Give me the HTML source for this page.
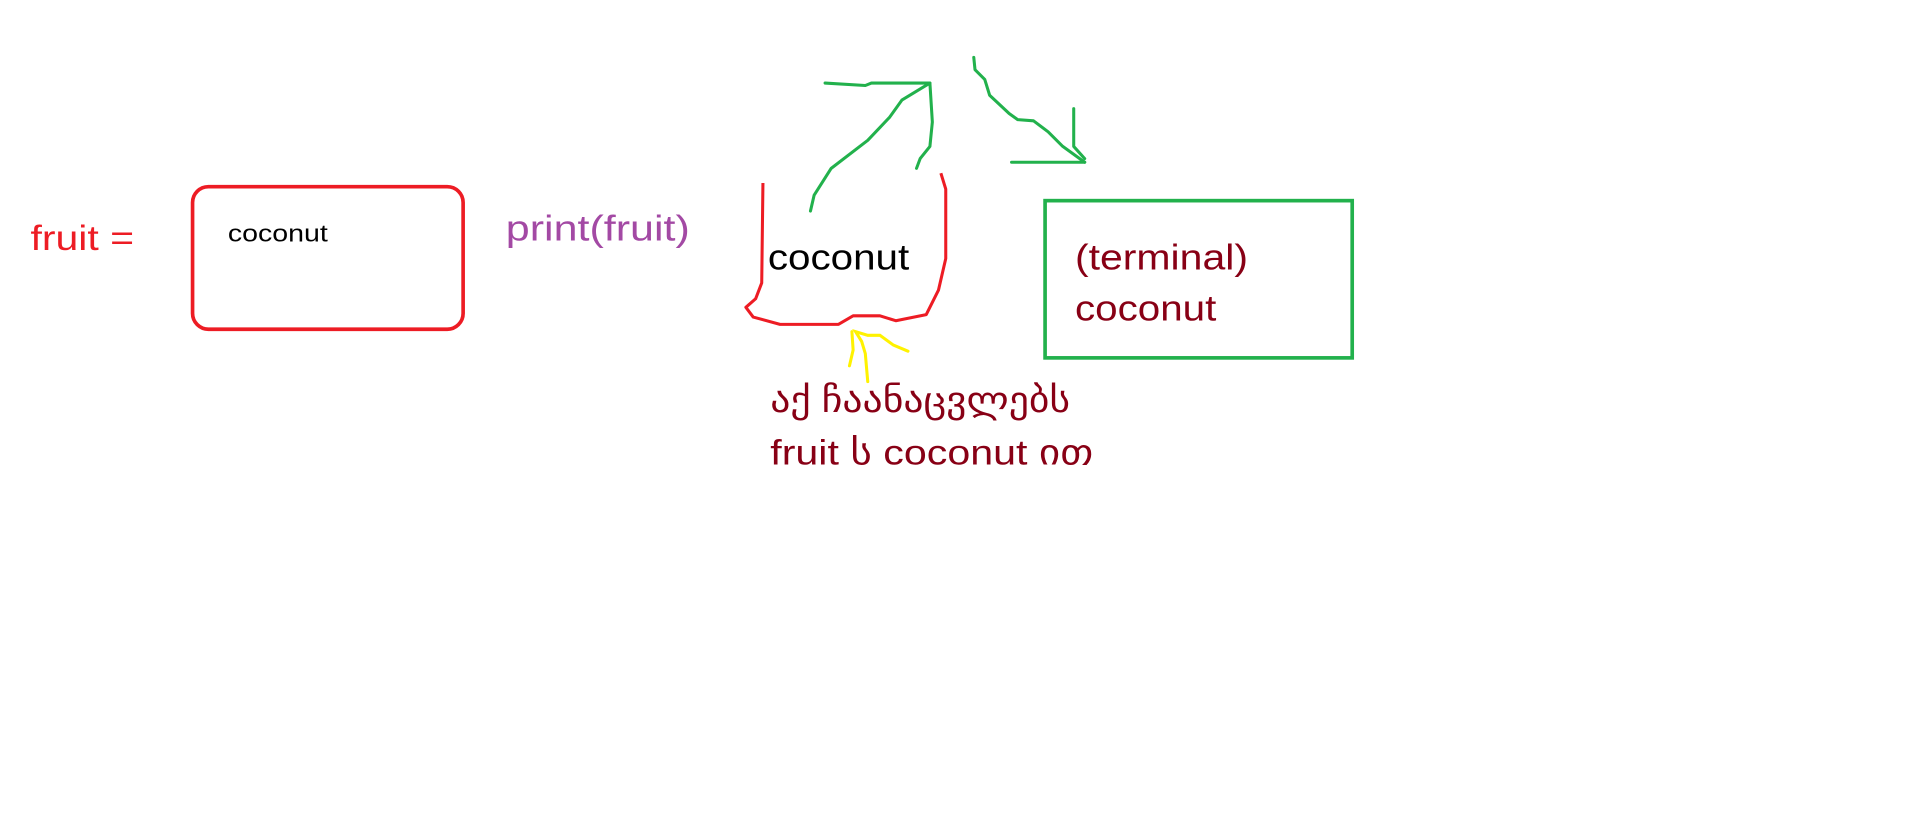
<!DOCTYPE html>
<html><head><meta charset="utf-8"><style>
html,body{margin:0;padding:0;background:#fff;}
svg{display:block;}
text{font-family:"Liberation Sans","DejaVu Sans",sans-serif;}
</style></head><body>
<svg width="1911" height="823" viewBox="0 0 1568 675" xmlns="http://www.w3.org/2000/svg">
<rect width="1568" height="675" fill="#fff"/>
<text x="25" y="205" font-size="29" fill="#ed1c24" textLength="85" lengthAdjust="spacingAndGlyphs">fruit =</text>
<rect x="158" y="153" width="222" height="117" rx="13" fill="none" stroke="#ed1c24" stroke-width="3"/>
<text x="187" y="198" font-size="20" fill="#000" textLength="82" lengthAdjust="spacingAndGlyphs">coconut</text>
<text x="415" y="197" font-size="30" fill="#a349a4" textLength="151" lengthAdjust="spacingAndGlyphs">print(fruit)</text>
<path d="M626,150 L625,232 L620,245 L612,252 L618,260 L640,266 L688,266 L700,259 L722,259 L735,263 L760,258 L770,238 L776,212 L776,155 L772,142" fill="none" stroke="#ed1c24" stroke-width="2.5" stroke-linejoin="round"/>
<text x="630" y="221" font-size="30" fill="#000" textLength="116" lengthAdjust="spacingAndGlyphs">coconut</text>
<g fill="none" stroke="#22b14c" stroke-width="2.5" stroke-linejoin="round" stroke-linecap="round">
<path d="M665,173 L668,160 L682,138 L712,115 L730,96 L740,82 L763,68"/>
<path d="M677,68 L710,70 L715,68 L763,68 L765,100 L763,120 L755,130 L752,138"/>
<path d="M799,47 L800,57 L808,65 L812,78 L828,93 L835,98 L848,99 L860,108 L872,120 L890,133"/>
<path d="M881,89 L881,120 L890,130"/>
<path d="M830,133 L890,133"/>
</g>
<rect x="857.5" y="164.5" width="252" height="129" fill="none" stroke="#22b14c" stroke-width="3"/>
<text x="882" y="221" font-size="30" fill="#880015" textLength="142" lengthAdjust="spacingAndGlyphs">(terminal)</text>
<text x="882" y="263" font-size="30" fill="#880015" textLength="116" lengthAdjust="spacingAndGlyphs">coconut</text>
<g fill="none" stroke="#fff200" stroke-width="2.5" stroke-linecap="round">
<path d="M697,300 L700,287 L699,272"/>
<path d="M712,313 L710,290 L707,280 L702,272 L712,275 L722,275 L733,283 L745,288"/>
</g>
<text x="632" y="338" font-size="29" fill="#880015" textLength="246" lengthAdjust="spacingAndGlyphs">აქ ჩაანაცვლებს</text>
<text x="632" y="381" font-size="29" fill="#880015" textLength="265" lengthAdjust="spacingAndGlyphs">fruit ს coconut ით</text>
</svg>
</body></html>
